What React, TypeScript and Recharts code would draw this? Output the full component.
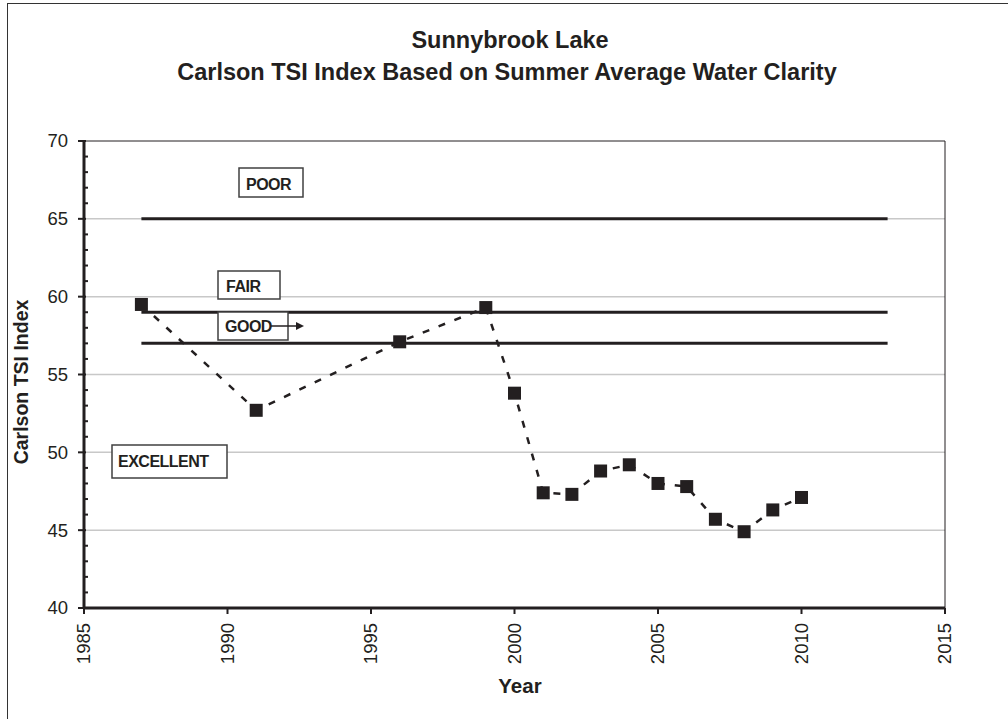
import React from 'react'
import {Line, LineChart, ReferenceLine, XAxis, YAxis} from 'recharts'

// summer average Secchi-based Carlson TSI
const years = [1987, 1991, 1996, 1999, 2000, 2001, 2002, 2003, 2004, 2005, 2006, 2007, 2008, 2009, 2010]
const tsi = [59.5, 52.7, 57.1, 59.3, 53.8, 47.4, 47.3, 48.8, 49.2, 48.0, 47.8, 45.7, 44.9, 46.3, 47.1]

const xTicks = [1985, 1990, 1995, 2000, 2005, 2010, 2015]
const yTicks = [40, 45, 50, 55, 60, 65, 70]
const yMinorTicks = [40, 41, 42, 43, 44, 45, 46, 47, 48, 49, 50, 51, 52, 53, 54, 55, 56, 57, 58, 59, 60, 61, 62, 63, 64, 65, 66, 67, 68, 69, 70]
const gridValues = [45, 50, 55, 60, 65]

// class boundaries drawn across the chart
const boundaries = [65, 59, 57]
const boundaryStart = 1987
const boundaryEnd = 2013

const data = years.map((year, i) => ({year, tsi: tsi[i]}))

const ink = '#231f20'
const font = '"Liberation Sans", Arial, sans-serif'

const Square = (props: any) => {
  const {cx, cy, index} = props
  if (cx == null || cy == null) return <g key={'d' + index} />
  return <rect key={'d' + index} x={cx - 6.5} y={cy - 6.5} width={13} height={13} fill={ink} />
}

const XTick = (props: any) => {
  const {x, y, payload} = props
  return (
    <g transform={`translate(${x},${y})`}>
      <text transform="rotate(-90)" x={-7} dy="0.35em" textAnchor="end" fill={ink} fontSize={18.5} fontFamily={font}>
        {payload.value}
      </text>
    </g>
  )
}

// y ticks: every unit gets a short inside tick, multiples of 5 get a label and a longer tick
const YTick = (props: any) => {
  const {x, y, payload} = props
  const major = yTicks.includes(payload.value)
  return (
    <g>
      {major ? (
        <>
          <line x1={x - 6} y1={y} x2={x + 2} y2={y} stroke={ink} strokeWidth={2} />
          <text x={x - 16} y={y} dy="0.35em" textAnchor="end" fill={ink} fontSize={18.5} fontFamily={font}>
            {payload.value}
          </text>
        </>
      ) : (
        <line x1={x} y1={y} x2={x + 4} y2={y} stroke={ink} strokeWidth={2} />
      )}
    </g>
  )
}

function Box({x, y, w, h, label, tx, ty}: any) {
  return (
    <g>
      <rect x={x} y={y} width={w} height={h} fill="#fff" stroke="#404040" strokeWidth={1.5} />
      <text x={tx} y={ty} fontSize={16} fontWeight="bold" letterSpacing={-0.5} fill={ink} fontFamily={font}>{label}</text>
    </g>
  )
}

export default function App() {
  return (
    <div style={{position: 'absolute', left: 0, top: 0, width: 1008, height: 719, overflow: 'hidden', background: '#fff'}}>
      <div style={{position: 'absolute', left: 7, top: 3, width: 1020, height: 740, border: '1.5px solid #333', boxSizing: 'border-box'}} />
      <div style={{position: 'absolute', left: 0, top: 0}}>
        <LineChart width={1008} height={719} data={data} margin={{top: 141, right: 63, bottom: 51, left: 24}}>
          {gridValues.map((g) => (
            <ReferenceLine key={'g' + g} y={g} stroke="#c8c8c8" strokeWidth={1.5} />
          ))}
          <XAxis
            dataKey="year"
            type="number"
            domain={[1985, 2015]}
            ticks={xTicks}
            height={60}
            tickSize={6}
            tick={<XTick />}
            stroke={ink}
            axisLine={{stroke: ink, strokeWidth: 3}}
            tickLine={{stroke: ink, strokeWidth: 2}}
            allowDataOverflow
          />
          <YAxis
            type="number"
            domain={[40, 70]}
            ticks={yMinorTicks}
            interval={0}
            width={60}
            tickSize={0}
            tickMargin={0}
            tick={<YTick />}
            axisLine={{stroke: ink, strokeWidth: 3}}
            tickLine={false}
            allowDataOverflow
          />
          <ReferenceLine y={70} stroke={ink} strokeWidth={1} />
          <ReferenceLine x={2015} stroke={ink} strokeWidth={1} />
          {boundaries.map((b) => (
            <ReferenceLine
              key={b}
              segment={[{x: boundaryStart, y: b}, {x: boundaryEnd, y: b}]}
              stroke={ink}
              strokeWidth={3}
            />
          ))}
          <Line
            dataKey="tsi"
            stroke={ink}
            strokeWidth={2.5}
            strokeDasharray="7 10"
            dot={Square}
            activeDot={false}
            isAnimationActive={false}
          />
        </LineChart>
      </div>
      <svg width={1008} height={719} style={{position: 'absolute', left: 0, top: 0, pointerEvents: 'none'}}>
        <g fontFamily={font} fill={ink} fontWeight="bold">
          <text x={510} y={48} textAnchor="middle" fontSize={23.5}>Sunnybrook Lake</text>
          <text x={507} y={80} textAnchor="middle" fontSize={23.5}>Carlson TSI Index Based on Summer Average Water Clarity</text>
          <text x={28} y={382} textAnchor="middle" fontSize={19.5} transform="rotate(-90 28 382)">Carlson TSI Index</text>
          <text x={520} y={693} textAnchor="middle" fontSize={20.5}>Year</text>
        </g>
        <Box x={239} y={168} w={64} h={29} label="POOR" tx={246} ty={190} />
        <Box x={218} y={271} w={62} h={28} label="FAIR" tx={226} ty={292} />
        <Box x={218} y={312} w={70} h={28} label="GOOD" tx={225} ty={332} />
        <Box x={112} y={445} w={115} h={33} label="EXCELLENT" tx={118} ty={467} />
        <line x1={270} y1={326} x2={297} y2={326} stroke={ink} strokeWidth={1.5} />
        <polygon points="296,322 304,326 296,330" fill={ink} />
      </svg>
    </div>
  )
}
